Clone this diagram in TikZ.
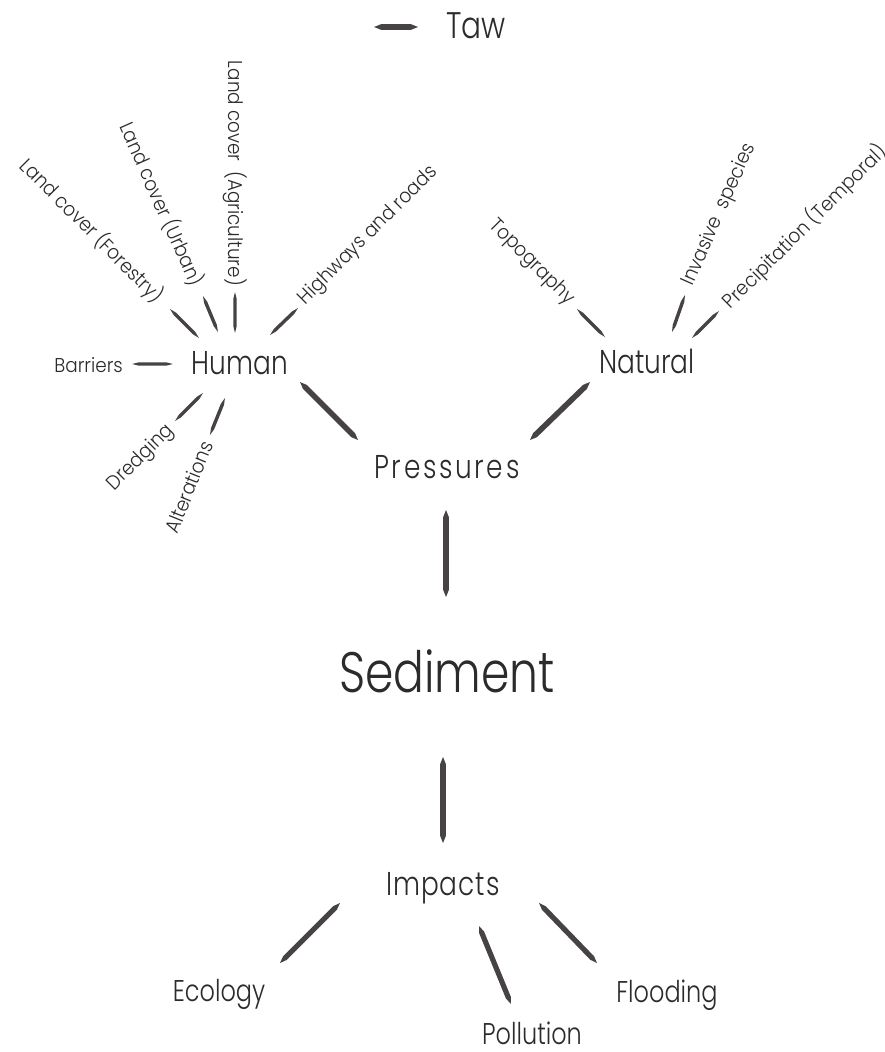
\documentclass[tikz,border=0pt]{standalone}
\usepackage{fontspec}
\setmainfont{Poppins}[UprightFont=* Light, FakeStretch=0.8]
\newfontfamily\labelfont{Poppins}[UprightFont=* Light, FakeStretch=0.92]
\usetikzlibrary{calc}
\definecolor{ink}{HTML}{2B2B2B}
\definecolor{linkgray}{HTML}{474343}

% tapered connector: #1 start, #2 end, #3 half width
\newcommand{\spindle}[3]{%
  \fill[linkgray] (#1) -- ($(#1)!7pt!(#2)!#3!90:(#2)$) -- ($(#2)!7pt!(#1)!#3!-90:(#1)$)
    -- (#2) -- ($(#2)!7pt!(#1)!#3!90:(#1)$) -- ($(#1)!7pt!(#2)!#3!-90:(#2)$) -- cycle;}

\tikzset{
  hubtext/.style={font=\fontsize{33}{36}\selectfont, text=ink, inner sep=0pt},
  spacedhub/.style={hubtext, font={\fontsize{33}{36}\selectfont\addfontfeature{LetterSpace=#1}}},
  coretext/.style={font=\fontsize{57}{60}\selectfont, text=ink, inner sep=0pt},
  titletext/.style={font=\fontsize{37}{40}\selectfont, text=ink, inner sep=0pt},
  leaftext/.style={font=\fontsize{30}{33}\selectfont, text=ink, inner sep=0pt},
  labeltext/.style={font=\labelfont\fontsize{20}{23}\selectfont, text=ink, inner sep=0pt},
}

\begin{document}
\begin{tikzpicture}[x=1pt,y=-1pt]
\useasboundingbox[fill=white] (0,0) rectangle (885,1052);

% ---- title ----
\node[titletext, anchor=base] (taw) at (476,38) {Taw};
\coordinate (taw1) at (374,27);
\coordinate (taw2) at (418,27);
\spindle{taw1}{taw2}{2.8pt}

% ---- main chain ----
\node[hubtext, anchor=base] (human) at (240,374) {Human};
\node[hubtext, anchor=base] (natural) at (647,373) {Natural};
\node[spacedhub=8, anchor=base] (pressures) at (447,478) {Pressures};
\node[coretext, anchor=base] (sediment) at (447,692) {Sediment};
\node[spacedhub=3, anchor=base] (impacts) at (443,895) {Impacts};

\coordinate (hp1) at (300,382); \coordinate (hp2) at (358,440);
\coordinate (np1) at (590,382); \coordinate (np2) at (530,440);
\coordinate (ps1) at (446,510); \coordinate (ps2) at (446,597);
\coordinate (si1) at (443,757); \coordinate (si2) at (443,843);
\spindle{hp1}{hp2}{2.8pt}
\spindle{np1}{np2}{2.8pt}
\spindle{ps1}{ps2}{2.8pt}
\spindle{si1}{si2}{2.8pt}

% ---- impacts ----
\node[leaftext, anchor=base] (ecology) at (219,1001) {Ecology};
\node[leaftext, anchor=base] (pollution) at (532,1044) {Pollution};
\node[leaftext, anchor=base] (flooding) at (667,1002) {Flooding};
\coordinate (ie1) at (340,903); \coordinate (ie2) at (280,963);
\coordinate (ip1) at (479,926); \coordinate (ip2) at (511,1004);
\coordinate (if1) at (539,903); \coordinate (if2) at (597,963);
\spindle{ie1}{ie2}{2.6pt}
\spindle{ip1}{ip2}{2.6pt}
\spindle{if1}{if2}{2.6pt}

% ---- human pressures ----
\node[labeltext, anchor=east, rotate=-45] (forestry) at (160,299) {Land cover (Forestry)};
\node[labeltext, anchor=east, rotate=-66] (urban) at (198,285) {Land cover (Urban)};
\node[labeltext, anchor=east, rotate=-90] (agri) at (235,286) {Land cover \ (Agriculture)};
\node[labeltext, anchor=west, rotate=45] (roads) at (302,302) {Highways and roads};
\node[labeltext, anchor=east] (barriers) at (123,365) {Barriers};
\node[labeltext, anchor=east, rotate=45] (dredging) at (171,428) {Dredging};
\node[labeltext, anchor=east, rotate=68] (alter) at (207,442) {Alterations};

\coordinate (hf1) at (199,338); \coordinate (hf2) at (170,309);
\coordinate (hu1) at (218,332); \coordinate (hu2) at (203,296);
\coordinate (ha1) at (235,333); \coordinate (ha2) at (235,292);
\coordinate (hr1) at (270,335); \coordinate (hr2) at (298,308);
\coordinate (hb1) at (173,364); \coordinate (hb2) at (132,364);
\coordinate (hd1) at (203,393); \coordinate (hd2) at (175,421);
\coordinate (hl1) at (225,398); \coordinate (hl2) at (210,435);
\foreach \a/\b in {hf1/hf2, hu1/hu2, ha1/ha2, hr1/hr2, hb1/hb2, hd1/hd2, hl1/hl2}
  {\spindle{\a}{\b}{1.7pt}}

% ---- natural pressures ----
\node[labeltext, anchor=east, rotate=-45] (topo) at (571,302) {Topography};
\node[labeltext, anchor=west, rotate=66] (invasive) at (688,285) {Invasive \ species};
\node[labeltext, anchor=west, rotate=45] (precip) at (726,305) {Precipitation (Temporal)};

\coordinate (nt1) at (605,337); \coordinate (nt2) at (577,309);
\coordinate (ni1) at (672,332); \coordinate (ni2) at (685,295);
\coordinate (nr1) at (692,338); \coordinate (nr2) at (719,311);
\foreach \a/\b in {nt1/nt2, ni1/ni2, nr1/nr2}
  {\spindle{\a}{\b}{1.7pt}}
\end{tikzpicture}
\end{document}
